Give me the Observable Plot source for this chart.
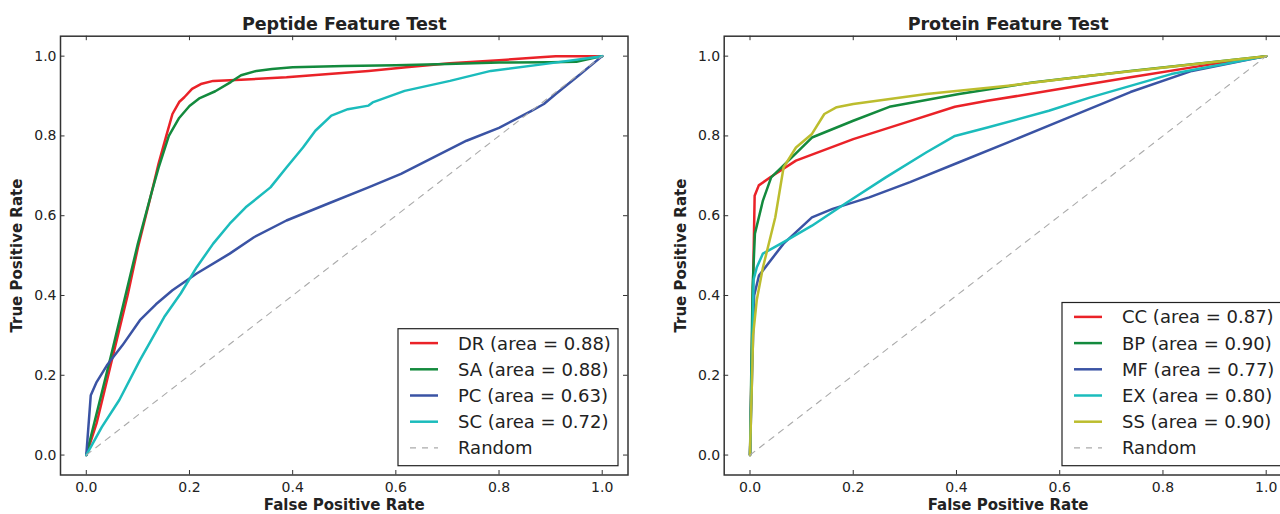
<!DOCTYPE html>
<html><head><meta charset="utf-8">
<script src="https://cdn.jsdelivr.net/npm/d3@7"></script>
<script src="https://cdn.jsdelivr.net/npm/@observablehq/plot@0.6"></script>
<style>
html,body{margin:0;padding:0;background:#fff;overflow:hidden;}
#wrap{position:relative;width:1280px;height:514px;overflow:hidden;background:#fff;}
.panel{position:absolute;top:0;}
</style></head><body><div id="wrap"></div>
<script>
// ---- tick values ----
const xTicks = [0, 0.2, 0.4, 0.6, 0.8, 1.0];
const yTicks = [0, 0.2, 0.4, 0.6, 0.8, 1.0];

// ---- Peptide Feature Test: [fpr, tpr] ----
const DR = [[0,0],[0.02,0.08],[0.05,0.24],[0.08,0.40],[0.10,0.52],[0.127,0.66],[0.14,0.73],[0.155,0.80],[0.167,0.855],[0.18,0.885],[0.19,0.897],[0.205,0.918],[0.222,0.93],[0.246,0.938],[0.3,0.941],[0.388,0.947],[0.47,0.955],[0.547,0.963],[0.62,0.972],[0.705,0.982],[0.8,0.99],[0.88,0.997],[0.91,1.0],[1,1]];
const SA = [[0,0],[0.05,0.26],[0.10,0.53],[0.127,0.66],[0.14,0.72],[0.16,0.80],[0.18,0.845],[0.20,0.875],[0.22,0.895],[0.25,0.912],[0.28,0.935],[0.30,0.952],[0.33,0.963],[0.36,0.968],[0.40,0.972],[0.5,0.975],[0.6,0.977],[0.7,0.98],[0.8,0.984],[0.9,0.985],[0.95,0.986],[1,1]];
const PC = [[0,0],[0.0087,0.15],[0.02,0.183],[0.04,0.225],[0.07,0.275],[0.104,0.338],[0.135,0.378],[0.167,0.413],[0.214,0.455],[0.278,0.505],[0.325,0.546],[0.388,0.588],[0.468,0.63],[0.547,0.671],[0.61,0.705],[0.673,0.746],[0.737,0.788],[0.8,0.82],[0.863,0.863],[0.887,0.88],[0.91,0.905],[0.955,0.952],[1,1]];
const SC = [[0,0],[0.03,0.07],[0.064,0.138],[0.104,0.238],[0.151,0.346],[0.183,0.405],[0.214,0.471],[0.246,0.53],[0.278,0.58],[0.309,0.621],[0.357,0.671],[0.388,0.721],[0.42,0.771],[0.444,0.813],[0.475,0.851],[0.507,0.867],[0.547,0.876],[0.555,0.884],[0.617,0.913],[0.705,0.938],[0.784,0.963],[0.887,0.98],[1,1]];

// ---- Protein Feature Test: [fpr, tpr] ----
const CC = [[0,0],[0.009,0.65],[0.017,0.676],[0.04,0.697],[0.089,0.738],[0.2,0.792],[0.302,0.834],[0.397,0.873],[0.46,0.888],[0.579,0.913],[0.737,0.947],[0.896,0.98],[1,1]];
const BP = [[0,0],[0.005,0.42],[0.0095,0.555],[0.025,0.638],[0.041,0.696],[0.081,0.746],[0.12,0.796],[0.2,0.838],[0.27,0.873],[0.405,0.905],[0.547,0.934],[0.737,0.963],[1,1]];
const MF = [[0,0],[0.008,0.4],[0.0174,0.45],[0.065,0.53],[0.12,0.596],[0.16,0.617],[0.231,0.646],[0.31,0.684],[0.405,0.734],[0.5,0.784],[0.619,0.847],[0.737,0.91],[0.856,0.963],[1,1]];
const EX = [[0,0],[0.007,0.44],[0.013,0.47],[0.025,0.505],[0.065,0.534],[0.12,0.575],[0.184,0.63],[0.263,0.696],[0.342,0.759],[0.397,0.8],[0.46,0.821],[0.579,0.863],[0.658,0.896],[0.816,0.955],[1,1]];
const SS = [[0,0],[0.006,0.3],[0.013,0.388],[0.025,0.47],[0.049,0.596],[0.065,0.721],[0.089,0.771],[0.12,0.805],[0.144,0.855],[0.168,0.872],[0.2,0.88],[0.342,0.905],[0.5,0.926],[0.658,0.951],[1,1]];
const RANDOM = [[0,0],[1,1]];

// ---- labels ----
const peptideNames = ["DR", "SA", "PC", "SC"];
const peptideAreas = ["0.88", "0.88", "0.63", "0.72"];
const proteinNames = ["CC", "BP", "MF", "EX", "SS"];
const proteinAreas = ["0.87", "0.90", "0.77", "0.80", "0.90"];
const colorMap = {DR:"#ea2228", SA:"#138a3d", PC:"#3a53a4", SC:"#1bbcbc",
                  CC:"#ea2228", BP:"#138a3d", MF:"#3a53a4", EX:"#1bbcbc", SS:"#bcbd2e"};
const randomColor = "#aaaaaa";

const FONT = "DejaVu Sans, Verdana, sans-serif";
const wrap = document.getElementById("wrap");

function panel({title, names, areas, series, left, width, mL, mR}) {
  const height = 514, mT = 35.7, mB = 39.5;
  const pxPerX = (width - mL - mR) / 1.1;
  const pxPerY = (height - mT - mB) / 1.1;
  const tx = 4.5 / pxPerX, ty = 4.5 / pxPerY;
  const axisColor = "#333";
  const marks = [];
  series.forEach((s, i) => {
    marks.push(Plot.line(s, {x: d => d[0], y: d => d[1], stroke: colorMap[names[i]], strokeWidth: 2.5, curve: "linear"}));
  });
  marks.push(Plot.line(RANDOM, {x: d => d[0], y: d => d[1], stroke: randomColor, strokeWidth: 1.1, strokeDasharray: "6,6"}));
  // inward ticks on all four sides
  marks.push(Plot.ruleX(xTicks, {y1: -0.05, y2: -0.05 + ty, stroke: axisColor, strokeWidth: 1}));
  marks.push(Plot.ruleX(xTicks, {y1: 1.05 - ty, y2: 1.05, stroke: axisColor, strokeWidth: 1}));
  marks.push(Plot.ruleY(yTicks, {x1: -0.05, x2: -0.05 + tx, stroke: axisColor, strokeWidth: 1}));
  marks.push(Plot.ruleY(yTicks, {x1: 1.05 - tx, x2: 1.05, stroke: axisColor, strokeWidth: 1}));
  marks.push(Plot.axisX(xTicks, {tickSize: 0, tickPadding: 7, tickFormat: d3.format(".1f"), label: null, fill: "#222"}));
  marks.push(Plot.axisY(yTicks, {tickSize: 0, tickPadding: 4, tickFormat: d3.format(".1f"), label: null, fill: "#222"}));
  marks.push(Plot.frame({stroke: axisColor, strokeWidth: 1.5}));
  marks.push(Plot.text([title], {frameAnchor: "top", dy: -12, lineAnchor: "middle", fontWeight: "bold", fontSize: 17.5, fill: "#222"}));
  marks.push(Plot.text(["False Positive Rate"], {frameAnchor: "bottom", dy: 30.5, lineAnchor: "middle", fontWeight: "bold", fontSize: 15, fill: "#222"}));
  marks.push(Plot.text(["True Positive Rate"], {frameAnchor: "left", dx: -43, rotate: -90, textAnchor: "middle", lineAnchor: "middle", fontWeight: "bold", fontSize: 15, fill: "#222"}));

  const svg = Plot.plot({
    width, height, marginLeft: mL, marginRight: mR, marginTop: mT, marginBottom: mB,
    x: {domain: [-0.05, 1.05]},
    y: {domain: [-0.05, 1.05]},
    style: {fontFamily: FONT, fontSize: "14px", background: "white", overflow: "visible"},
    marks
  });
  svg.classList.add("panel");
  svg.style.left = left + "px";

  // legend (lower right, inside frame)
  const frameRight = width - mR, frameBottom = height - mB;
  const rowH = 26.2;
  const entries = names.map((n, i) => ({label: `${n} (area = ${areas[i]})`, color: colorMap[n], dash: null}))
    .concat([{label: "Random", color: randomColor, dash: "6,6"}]);
  const boxW = 220, boxH = 14.4 + rowH * (entries.length - 1) + 17.8;
  const bx = frameRight - 9.5 - boxW, by = frameBottom - 8.8 - boxH;
  const g = d3.select(svg).append("g").attr("transform", `translate(${bx},${by})`);
  g.append("rect").attr("x", 0).attr("y", 0).attr("width", boxW).attr("height", boxH)
    .attr("fill", "white").attr("stroke", "#222").attr("stroke-width", 1.2);
  entries.forEach((e, i) => {
    const cy = 14.4 + i * rowH;
    g.append("line").attr("x1", 12).attr("x2", 40).attr("y1", cy).attr("y2", cy)
      .attr("stroke", e.color).attr("stroke-width", e.dash ? 1.1 : 2.5)
      .attr("stroke-dasharray", e.dash);
    g.append("text").attr("x", 60).attr("y", cy).attr("dy", "0.36em")
      .attr("text-anchor", "start")
      .attr("font-size", 18).attr("font-family", FONT).attr("fill", "#222").text(e.label);
  });
  wrap.appendChild(svg);
}

panel({title: "Peptide Feature Test", names: peptideNames, areas: peptideAreas,
       series: [DR, SA, PC, SC], left: 0, width: 640, mL: 60, mR: 12.5});
panel({title: "Protein Feature Test", names: proteinNames, areas: proteinAreas,
       series: [CC, BP, MF, EX, SS], left: 640, width: 660, mL: 83.7, mR: 8.5});
</script></body></html>
